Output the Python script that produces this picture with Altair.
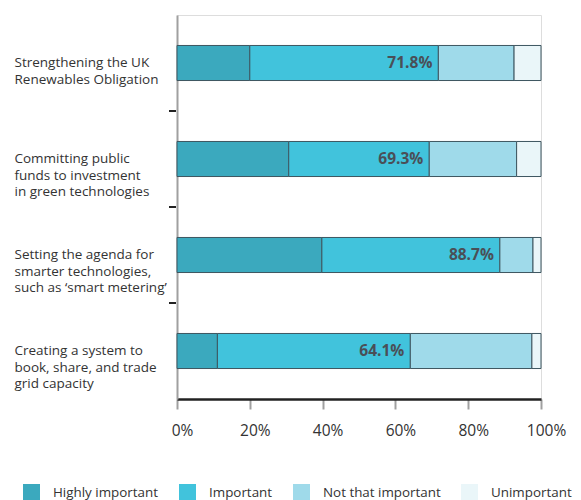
import altair as alt
import pandas as pd

categories = [
    "Strengthening the UK|Renewables Obligation",
    "Committing public|funds to investment|in green technologies",
    "Setting the agenda for|smarter technologies,|such as \u2018smart metering\u2019",
    "Creating a system to|book, share, and trade|grid capacity",
]
series = ["Highly important", "Important", "Not that important", "Unimportant"]
highly = [20.0, 30.7, 39.8, 11.1]
important = [51.8, 38.6, 48.9, 53.0]
not_that = [20.8, 24.0, 9.1, 33.4]
unimportant = [7.4, 6.7, 2.2, 2.5]
labels = ["71.8%", "69.3%", "88.7%", "64.1%"]
label_pos = [71.8, 69.3, 88.7, 64.1]
colors = ["#3ba9be", "#41c3dc", "#9fdaea", "#eaf6f9"]
x_ticks = [0, 20, 40, 60, 80, 100]

rows = []
for i, c in enumerate(categories):
    for j, (s, vals) in enumerate(zip(series, [highly, important, not_that, unimportant])):
        rows.append({"cat": c, "series": s, "value": vals[i], "order": j})
df = pd.DataFrame(rows)
lab_df = pd.DataFrame({"cat": categories, "label": labels, "pos": label_pos})
tick_df = pd.DataFrame({"cat": categories[1:]})

FONT = "Open Sans"

y_enc = alt.Y(
    "cat:N",
    sort=categories,
    scale=alt.Scale(paddingInner=0.635, paddingOuter=0.3175),
    axis=alt.Axis(
        title=None,
        ticks=False,
        domain=True,
        domainColor="#a0a0a0",
        domainWidth=2,
        labelAlign="left",
        labelBaseline="middle",
        labelPadding=163,
        labelFont=FONT,
        labelFontSize=13.5,
        labelColor="#333333",
        labelLineHeight=16.5,
        labelExpr="split(datum.label, '|')",
        labelLimit=200,
    ),
)

bars = alt.Chart(df).mark_bar(stroke="#3d5660", strokeWidth=1).encode(
    x=alt.X(
        "value:Q",
        stack="zero",
        scale=alt.Scale(domain=[0, 100], nice=False),
        axis=alt.Axis(
            title=None,
            values=x_ticks,
            labelExpr="datum.value + '%'",
            domainColor="#222222",
            domainWidth=2.5,
            tickColor="#a0a0a0",
            tickWidth=2,
            tickSize=10,
            labelPadding=14,
            labelFlush=False,
            labelOffset=5,
            labelFont=FONT,
            labelFontSize=15.5,
            labelColor="#333333",
            grid=False,
        ),
    ),
    y=y_enc,
    color=alt.Color(
        "series:N",
        sort=series,
        scale=alt.Scale(domain=series, range=colors),
        legend=alt.Legend(
            title=None,
            orient="none",
            direction="horizontal",
            legendX=-154,
            legendY=469,
            symbolType="square",
            symbolSize=289,
            symbolStrokeWidth=0,
            symbolOpacity=1,
            labelOffset=13,
            columnPadding=20,
            labelFont=FONT,
            labelFontSize=13.4,
            labelColor="#333333",
        ),
    ),
    order=alt.Order("order:Q"),
)

text = alt.Chart(lab_df).mark_text(
    align="right", baseline="middle", dx=-6, fontWeight="bold",
    fontSize=15.5, font=FONT, color="#4a4f57"
).encode(
    x=alt.X("pos:Q"),
    y=alt.Y("cat:N", sort=categories),
    text="label:N",
)

ticks = alt.Chart(tick_df).mark_rule(color="#222222", strokeWidth=2, yOffset=-30.5).encode(
    y=alt.Y("cat:N", sort=categories, bandPosition=0),
    x=alt.value(-8),
    x2=alt.value(-1),
)

chart = alt.layer(bars, text, ticks).properties(
    width=364,
    height=384,
    autosize=alt.AutoSizeParams(type="none"),
    padding={"left": 177, "top": 15, "right": 40, "bottom": 101},
).configure_view(stroke=None).configure(background="white")

chart.save("out.html", embed_options={"renderer": "svg", "actions": False})
